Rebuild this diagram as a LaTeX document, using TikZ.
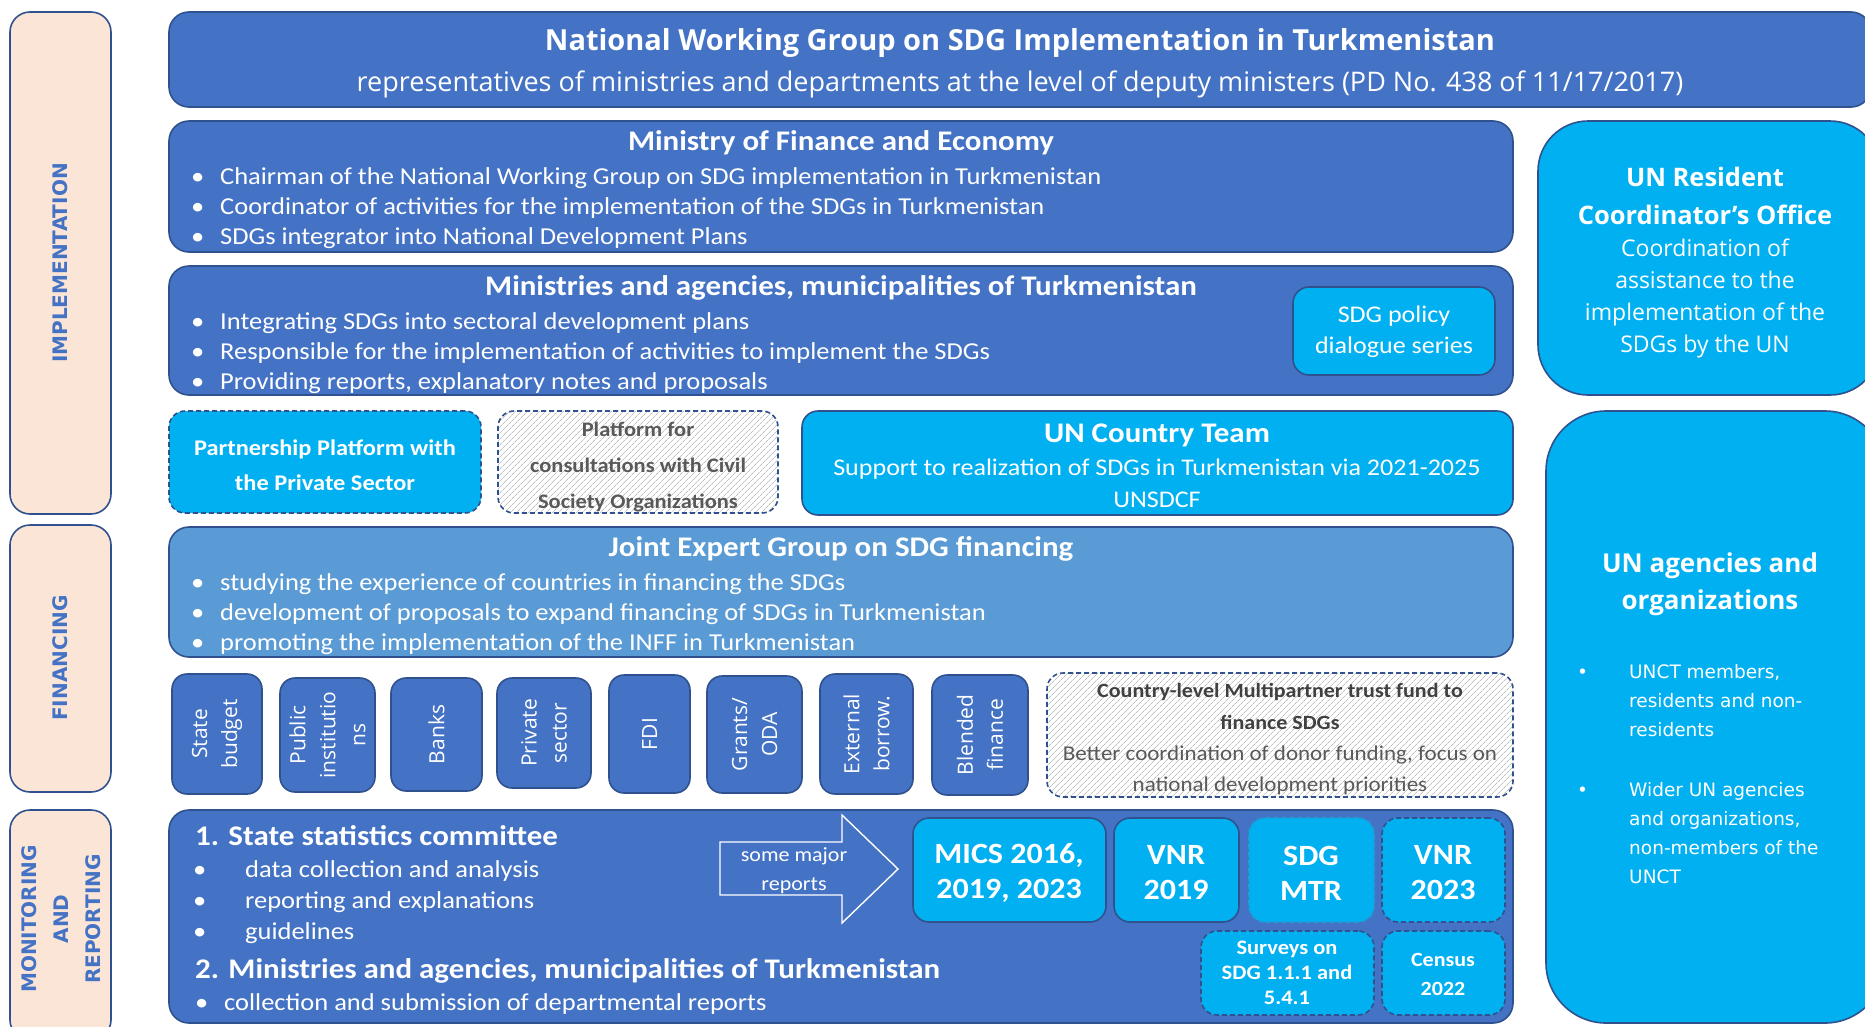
\documentclass[tikz,border=0pt]{standalone}
\usepackage{fontspec}
\setmainfont{Carlito}[FakeStretch=1.09]
\newfontfamily\osans{Open Sans}
\newfontfamily\dvs{DejaVu Sans}
\usetikzlibrary{fit,patterns.meta}
\definecolor{blu}{HTML}{4472C4}
\definecolor{bdr}{HTML}{2F528F}
\definecolor{cyn}{HTML}{00B0F0}
\definecolor{cynb}{HTML}{1A9FD6}
\definecolor{jeg}{HTML}{5B9BD5}
\definecolor{peach}{HTML}{FBE5D6}
\definecolor{gtxt}{HTML}{595959}
\newcommand\fs[2]{\fontsize{#1}{#2}\selectfont}
\newcommand\bul[1]{\makebox[29pt][l]{•}#1}
\tikzset{
  base/.style={inner sep=0pt, line width=1.6pt, draw=bdr},
  bbox/.style={base, fill=blu, rounded corners=20pt},
  cbox/.style={base, fill=cyn, rounded corners=16pt},
  side/.style={base, fill=peach, rounded corners=20pt},
  fbox/.style={base, fill=blu, rounded corners=15pt},
  hbox/.style={base, dashed, dash pattern=on 5pt off 3pt, rounded corners=16pt,
     preaction={fill=white}, pattern={Lines[angle=45,distance=4pt,line width=0.8pt]}, pattern color=black!25},
  sidetxt/.style={inner sep=0pt, text=blu, font=\dvs\bfseries\fs{20}{32}},
  wt/.style={inner sep=0pt, text=white},
  ln/.style={inner sep=0pt, text=white, anchor=base west},
  hd/.style={inner sep=0pt, text=white, anchor=base, font=\bfseries\fs{28.4}{34}},
  b1/.style={ln, font=\fs{24.3}{30}},
  ft/.style={inner sep=0pt, text=white, rotate=90, align=center, font=\osans\fs{21}{30}},
}
\begin{document}
\begin{tikzpicture}[x=1pt,y=-1pt]
\useasboundingbox (0,0) rectangle (1865,1026);
\clip (0,0) rectangle (1865,1026);

% side bars
\node[side, fit={(10,12)(111,514)}] (simpl) {};
\node[sidetxt, rotate=90] (limpl) at (60,263) {IMPLEMENTATION};
\node[side, fit={(10,525)(111,792)}] (sfin) {};
\node[sidetxt, rotate=90] (lfin) at (60,658) {FINANCING};
\node[side, fit={(10,810)(111,1040)}] (smon) {};
\node[sidetxt, rotate=90, align=center] (lmon) at (61,919) {MONITORING\\AND\\REPORTING};

% top
\node[bbox, fit={(169,12)(1871,107)}] (top) {};
\node[wt, font=\osans\bfseries\fs{29}{32}] (t1) at (1020,43) {National Working Group on SDG Implementation in Turkmenistan};
\node[wt, font=\osans\fs{27}{32}] (t2) at (1020,84) {representatives of ministries and departments at the level of deputy ministers (PD No. 438 of 11/17/2017)};

% Ministry of finance
\node[bbox, fit={(169,121)(1513,252)}] (mof) {};
\node[hd] (mofh) at (841,150) {Ministry of Finance and Economy};
\node[b1] (mofb1) at (191,184) {\bul{Chairman of the National Working Group on SDG implementation in Turkmenistan}};
\node[b1] (mofb2) at (191,214) {\bul{Coordinator of activities for the implementation of the SDGs in Turkmenistan}};
\node[b1] (mofb3) at (191,244) {\bul{SDGs integrator into National Development Plans}};

% Ministries and agencies
\node[bbox, fit={(169,266)(1513,395)}] (mag) {};
\node[hd] (magh) at (841,295) {Ministries and agencies, municipalities of Turkmenistan};
\node[b1] (magb1) at (191,329) {\bul{Integrating SDGs into sectoral development plans}};
\node[b1] (magb2) at (191,359) {\bul{Responsible for the implementation of activities to implement the SDGs}};
\node[b1] (magb3) at (191,389) {\bul{Providing reports, explanatory notes and proposals}};
\node[cbox, fit={(1293,287)(1495,375)}] (pol) {};
\node[wt, align=center, font=\fs{23.9}{31}] (polt) at (1394,332) {SDG policy\\dialogue series};

% UN RCO
\node[base, fill=cyn, rounded corners=50pt, fit={(1538,121)(1880,395)}] (rco) {};
\node[wt, align=center, font=\osans\bfseries\fs{25.5}{38}] (rcoh) at (1705,196) {UN Resident\\Coordinator’s Office};
\node[wt, align=center, font=\osans\fs{23}{32}] (rcob) at (1705,298) {Coordination of\\assistance to the\\implementation of the\\SDGs by the UN};

% platforms
\node[cbox, dashed, dash pattern=on 5pt off 3pt, fit={(169,411)(481,513)}] (pps) {};
\node[wt, align=center, font=\bfseries\fs{22.4}{35}] (ppst) at (325,465) {Partnership Platform with\\the Private Sector};
\node[hbox, fit={(498,411)(778,513)}] (pcs) {};
\node[inner sep=0pt, text=gtxt, align=center, font=\bfseries\fs{20.6}{36}] (pcst) at (638,467) {Platform for\\consultations with Civil\\Society Organizations};
\node[cbox, fit={(802,411)(1513,515)}] (unct) {};
\node[hd] (uncth) at (1157,442) {UN Country Team};
\node[wt, align=center, font=\fs{23.9}{32}] (unctb) at (1157,483) {Support to realization of SDGs in Turkmenistan via 2021-2025\\UNSDCF};

% joint expert group
\node[bbox, fill=jeg, fit={(169,527)(1513,657)}] (jeg) {};
\node[hd] (jegh) at (841,556) {Joint Expert Group on SDG financing};
\node[b1] (jegb1) at (191,590) {\bul{studying the experience of countries in financing the SDGs}};
\node[b1] (jegb2) at (191,620) {\bul{development of proposals to expand financing of SDGs in Turkmenistan}};
\node[b1] (jegb3) at (191,650) {\bul{promoting the implementation of the INFF in Turkmenistan}};

% financing sources
\node[fbox, fit={(172,674)(262,794)}] (f1) {};
\node[ft] at (f1.center) {State\\budget};
\node[fbox, fit={(280,678)(375,792)}] (f2) {};
\node[ft] at (f2.center) {Public\\institutio\\ns};
\node[fbox, fit={(391,678)(482,791)}] (f3) {};
\node[ft] at (f3.center) {Banks};
\node[fbox, fit={(497,678)(591,788)}] (f4) {};
\node[ft] at (f4.center) {Private\\sector};
\node[fbox, fit={(609,675)(690,793)}] (f5) {};
\node[ft] at (f5.center) {FDI};
\node[fbox, fit={(707,676)(802,793)}] (f6) {};
\node[ft] at (f6.center) {Grants/\\ODA};
\node[fbox, fit={(820,674)(913,794)}] (f7) {};
\node[ft] at (f7.center) {External\\borrow.};
\node[fbox, fit={(932,675)(1028,795)}] (f8) {};
\node[ft] at (f8.center) {Blended\\finance};
\node[hbox, fit={(1047,673)(1513,797)}] (mptf) {};
\node[inner sep=0pt, text=black!75, align=center, font=\bfseries\fs{20.2}{32}] (mptfh) at (1280,706) {Country-level Multipartner trust fund to\\finance SDGs};
\node[inner sep=0pt, text=gtxt, align=center, font=\fs{21.1}{31}] (mptfb) at (1280,770) {Better coordination of donor funding, focus on\\national development priorities};

% monitoring
\node[bbox, fit={(169,810)(1513,1023)}] (mon) {};
\node[ln, font=\bfseries\fs{28.4}{34}] (m1) at (195,845) {1. State statistics committee};
\node[b1] (m1b1) at (193,877) {\makebox[52pt][l]{•}data collection and analysis};
\node[b1] (m1b2) at (193,908) {\makebox[52pt][l]{•}reporting and explanations};
\node[b1] (m1b3) at (193,939) {\makebox[52pt][l]{•}guidelines};
\node[ln, font=\bfseries\fs{28.4}{34}] (m2) at (195,978) {2. Ministries and agencies, municipalities of Turkmenistan};
\node[b1] (m2b) at (195,1010) {\bul{collection and submission of departmental reports}};

% arrow
\draw[white, line width=1.4pt, fill=blu] (720,842) -- (842,842) -- (842,815) -- (898,869) -- (842,923) -- (842,895) -- (720,895) -- cycle;
\node[wt, align=center, font=\fs{20.2}{29}] (arr) at (794,871) {some major\\reports};

% reports
\node[cbox, fit={(913,818)(1106,922)}] (mics) {};
\node[wt, align=center, font=\bfseries\fs{29.4}{35}] at (1009,873) {MICS 2016,\\2019, 2023};
\node[cbox, fit={(1114,818)(1239,922)}] (vnr19) {};
\node[wt, align=center, font=\bfseries\fs{29.4}{35}] at (1176,873) {VNR\\2019};
\node[cbox, draw=cynb, dashed, dash pattern=on 5pt off 3pt, fit={(1249,818)(1374,922)}] (mtr) {};
\node[wt, align=center, font=\bfseries\fs{29.4}{35}] at (1311,873) {SDG\\MTR};
\node[cbox, dashed, dash pattern=on 5pt off 3pt, fit={(1382,818)(1505,922)}] (vnr23) {};
\node[wt, align=center, font=\bfseries\fs{29.4}{35}] at (1443,873) {VNR\\2023};
\node[cbox, dashed, dash pattern=on 5pt off 3pt, fit={(1201,931)(1374,1015)}] (surv) {};
\node[wt, align=center, font=\bfseries\fs{20.6}{25}] at (1287,973) {Surveys on\\SDG 1.1.1 and\\5.4.1};
\node[cbox, dashed, dash pattern=on 5pt off 3pt, fit={(1382,931)(1505,1015)}] (cens) {};
\node[wt, align=center, font=\bfseries\fs{20.2}{29}] at (1443,974) {Census\\2022};

% UN agencies
\node[base, fill=cyn, rounded corners=60pt, fit={(1546,411)(1885,1023)}] (una) {};
\node[wt, align=center, font=\osans\bfseries\fs{26}{37}] (unah) at (1710,584) {UN agencies and\\organizations};
\node[wt, anchor=north west, align=left, font=\dvs\fs{18.5}{29}] (unab) at (1577,664) {\makebox[52pt][l]{•}UNCT members,\\\hspace*{52pt}residents and non-\\\hspace*{52pt}residents\\[31pt]\makebox[52pt][l]{•}Wider UN agencies\\\hspace*{52pt}and organizations,\\\hspace*{52pt}non-members of the\\\hspace*{52pt}UNCT};
\end{tikzpicture}
\end{document}
